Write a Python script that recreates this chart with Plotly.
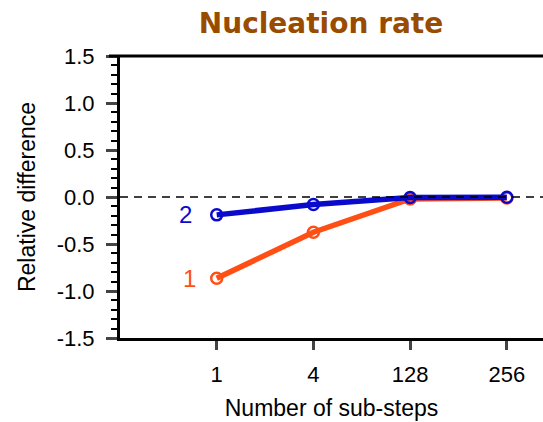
import plotly.graph_objects as go

categories = ["1", "4", "128", "256"]
series1 = [-0.865, -0.375, -0.02, -0.01]
series2 = [-0.19, -0.08, -0.005, -0.003]
ytick_vals = [-1.5, -1.0, -0.5, 0.0, 0.5, 1.0, 1.5]
ytick_text = ["-1.5", "-1.0", "-0.5", "0.0", "0.5", "1.0", "1.5"]

orange = "#FF4F14"
blue = "#0A0ACC"
xs = list(range(len(categories)))

fig = go.Figure()
fig.add_trace(go.Scatter(x=xs, y=series1, mode="lines+markers",
                         line=dict(color=orange, width=5.5),
                         marker=dict(symbol="circle-open", size=11, color=orange, line=dict(width=2.5))))
fig.add_trace(go.Scatter(x=xs, y=series2, mode="lines+markers",
                         line=dict(color=blue, width=5.5),
                         marker=dict(symbol="circle-open", size=11, color=blue, line=dict(width=2.5))))

fig.add_annotation(x=-0.32, y=series2[0], text="2", showarrow=False,
                   font=dict(family="Liberation Sans, Arial", size=24, color=blue))
fig.add_annotation(x=-0.28, y=series1[0], text="1", showarrow=False,
                   font=dict(family="Liberation Sans, Arial", size=24, color=orange))

fig.add_shape(type="line", xref="paper", yref="y", x0=0, x1=1, y0=0, y1=0,
              line=dict(color="black", width=1.5, dash="8px,6px"), layer="above")
fig.add_shape(type="line", xref="paper", yref="paper", x0=-0.026, x1=1, y0=1, y1=1,
              line=dict(color="black", width=3), layer="above")

fig.update_layout(
    width=543, height=422,
    margin=dict(l=120, r=0, t=56, b=84),
    plot_bgcolor="white", paper_bgcolor="white",
    showlegend=False,
    font=dict(family="Liberation Sans, Arial", color="black"),
    title=dict(text="<b>Nucleation rate</b>", x=321/543, xanchor="center", y=1 - 23/422, yanchor="middle",
               font=dict(family="DejaVu Sans", size=28, color="#994C00")),
    xaxis=dict(range=[-1, 3.374], tickvals=xs, ticktext=categories, showgrid=False, zeroline=False,
               showline=True, linecolor="black", linewidth=3, ticks="outside", ticklen=9, tickwidth=2.5,
               tickfont=dict(size=22), ticklabelstandoff=6,
               title=dict(text="Number of sub-steps", font=dict(size=23), standoff=14)),
    yaxis=dict(range=[-1.5, 1.5], tickvals=ytick_vals, ticktext=ytick_text, showgrid=False, zeroline=False,
               showline=True, linecolor="black", linewidth=3, ticks="outside", ticklen=11, tickwidth=2.5,
               tickfont=dict(size=22), ticklabelstandoff=7,
               minor=dict(dtick=0.1, ticks="outside", ticklen=6, tickwidth=1.5, tickcolor="black", showgrid=False),
               title=dict(text="Relative difference", font=dict(size=23), standoff=15)),
)

fig.write_html("out.html")
